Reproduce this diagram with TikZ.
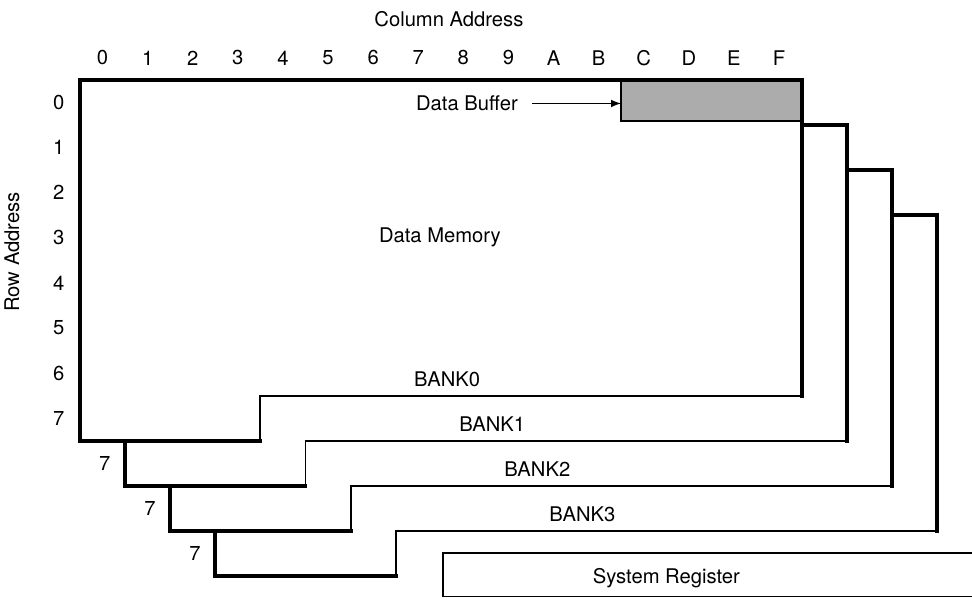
\documentclass[tikz,border=0pt]{standalone}
\usepackage{fontspec}
\setmainfont{TeX Gyre Heros}
\begin{document}
\begin{tikzpicture}[x=0.902cm,y=-0.902cm,
  every node/.style={font=\fontsize{11.5}{13}\selectfont, inner sep=0pt},
  wall/.style={line width=2.2pt, line cap=rect, line join=miter},
  stepline/.style={line width=1.1pt, line cap=rect, line join=miter}]
\useasboundingbox (-1.774,-1.774) rectangle (19.778,11.508);

% addresses
\node (coltitle) at (8.18,-1.35) {Column Address};
\foreach \c [count=\i from 0] in {0,1,2,3,4,5,6,7,8,9,A,B,C,D,E,F}
    \node (c\i) at (\i+0.5,-0.49) {\c};
\foreach \r in {0,...,7}
    \node (r\r) at (-0.47,\r+0.5) {\r};
\node[rotate=90] (rowtitle) at (-1.51,3.81) {Row Address};

% data buffer
\coordinate (b0) at (12,0);
\coordinate (b1) at (16,0.91);
\fill[gray!65] (b0) rectangle (b1);
\draw[stepline] (b0) rectangle (b1);

% bank 0
\draw[wall] (4,8) -- (0,8) -- (0,0) -- (16,0) -- (16,7);
\draw[stepline] (16,7) -- (4,7) -- (4,8);

% banks 1-3
\foreach \k in {1,2,3}{
    \draw[wall] (\k+4,\k+8) -- (\k,\k+8) -- (\k,\k+7);
    \draw[wall] (\k+15,\k) -- (\k+16,\k) -- (\k+16,\k+7);
    \draw[stepline] (\k+16,\k+7) -- (\k+4,\k+7) -- (\k+4,\k+8);
}

\node (mem) at (7.98,3.48) {Data Memory};
\node (buflabel) at (8.58,0.52) {Data Buffer};
\coordinate (bufW) at (12,0.52);
\draw[-latex, line width=1pt, shorten <=0.28cm] (buflabel) -- (bufW);

\foreach \k in {0,...,3}
    \node (bank\k) at (\k+8.14,\k+6.63) {BANK\k};
\foreach \k in {0,1,2}
    \node (seven\k) at (\k+0.55,\k+8.5) {7};

% system register
\coordinate (s0) at (8.05,10.49);
\coordinate (s1) at (20,11.45);
\draw[line width=1pt] (s0) rectangle (s1);
\node (sysreg) at (13.0,11.05) {System Register};
\end{tikzpicture}
\end{document}
